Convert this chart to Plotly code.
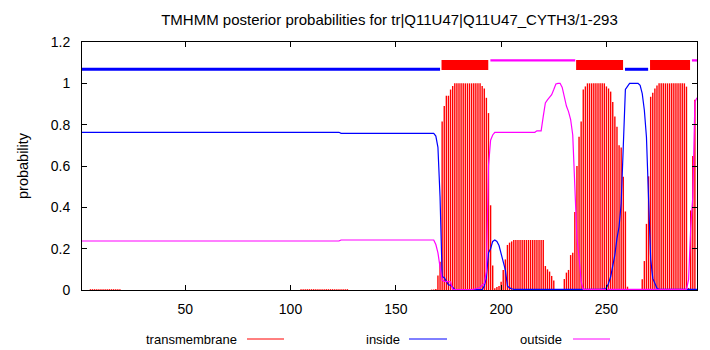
import plotly.graph_objects as go

# ---------------- data ----------------
title_text = "TMHMM posterior probabilities for tr|Q11U47|Q11U47_CYTH3/1-293"
x_ticks = [50, 100, 150, 200, 250]
y_ticks = [0, 0.2, 0.4, 0.6, 0.8, 1, 1.2]
y_tick_labels = ["0", "0.2", "0.4", "0.6", "0.8", "1", "1.2"]
legend_names = ["transmembrane", "inside", "outside"]

# transmembrane posterior probability (impulses), residue -> probability
tm_residue = [5, 6, 7, 8, 9, 10, 11, 12, 13, 14, 15, 16, 17, 18, 19,
              105, 106, 107, 108, 109, 110, 111, 112, 113, 114, 115, 116,
              117, 118, 119, 120, 121, 122, 123, 124, 125, 126, 127,
              167, 168, 169, 170, 171, 172, 173, 174, 175, 176, 177,
              178, 179, 180, 181, 182, 183, 184, 185, 186, 187, 188, 189, 190,
              191, 192, 193, 194, 195, 196, 197, 198, 199, 200, 201, 202,
              203, 204, 205, 206, 207, 208, 209, 210, 211, 212, 213, 214,
              215, 216, 217, 218, 219, 220, 221, 222, 223, 224, 225, 226,
              227, 228, 229, 230, 231, 232, 233, 234, 235, 236, 237, 238,
              239, 240, 241, 242, 243, 244, 245, 246, 247, 248, 249, 250,
              251, 252, 253, 254, 255, 256, 257, 258, 259, 260, 261, 266,
              267, 268, 269, 270, 271, 272, 273, 274, 275, 276, 277, 278,
              279, 280, 281, 282, 283, 284, 285, 286, 287, 288, 289, 290,
              291, 292]
tm_prob = [0.004, 0.004, 0.004, 0.004, 0.004, 0.004, 0.004, 0.004, 0.004, 0.004,
           0.004, 0.004, 0.004, 0.004, 0.004,
           0.004, 0.004, 0.004, 0.004, 0.004, 0.004, 0.004, 0.004, 0.004, 0.004,
           0.004, 0.004, 0.004, 0.004, 0.004, 0.004, 0.004, 0.004, 0.004, 0.004,
           0.004, 0.004, 0.004,
           0.002, 0.003, 0.005, 0.07, 0.137, 0.815, 0.89, 0.94, 0.94, 0.97, 0.987,
           1.0, 1.0, 1.0, 1.0, 1.0, 1.0, 1.0, 1.0, 1.0, 1.0, 1.0, 1.0, 1.0,
           0.987, 0.975, 0.93, 0.856, 0.41, 0.118, 0.008, 0.015, 0.019, 0.04, 0.097, 0.148,
           0.218, 0.229, 0.235, 0.242, 0.242, 0.242, 0.242, 0.242, 0.242, 0.242, 0.242, 0.242,
           0.242, 0.242, 0.242, 0.242, 0.242, 0.242, 0.116, 0.10, 0.089, 0.068, 0.046, 0.002,
           0.001, 0.001, 0.002, 0.053, 0.084, 0.097, 0.169, 0.18, 0.377, 0.60, 0.742, 0.815,
           0.97, 0.985, 1.0, 1.0, 1.0, 1.0, 1.0, 1.0, 1.0, 1.0, 1.0, 0.985,
           0.975, 0.96, 0.91, 0.84, 0.79, 0.70, 0.69, 0.548, 0.38, 0.016, 0.005, 0.003,
           0.052, 0.14, 0.32, 0.55, 0.935, 0.955, 0.975, 0.99, 1.0, 1.0, 1.0, 1.0,
           1.0, 1.0, 1.0, 1.0, 1.0, 1.0, 1.0, 1.0, 1.0, 0.984, 0.01, 0.385,
           0.648, 0.92]

# inside posterior probability (line)
inside_res = [1, 123, 124, 168, 169, 170, 171, 172, 173, 174, 175, 176, 177, 178,
              191, 192, 193, 194, 195, 196, 197, 198, 199, 200, 201, 202, 203, 204,
              205, 206, 247, 248, 249, 250, 251, 252, 253, 254, 255, 256, 257, 258,
              259, 260, 261, 265, 266, 267, 268, 269, 270, 271, 272, 273, 274, 275, 293]
inside_prob = [0.763, 0.763, 0.758, 0.758, 0.745, 0.69, 0.45, 0.065, 0.06, 0.04, 0.025,
               0.024, 0.012, 0.003, 0.002, 0.019, 0.06, 0.18, 0.2, 0.235, 0.242, 0.235,
               0.215, 0.175, 0.14, 0.097, 0.02, 0.01, 0.006, 0.003, 0.003, 0.003, 0.005,
               0.01, 0.032, 0.064, 0.12, 0.17, 0.25, 0.306, 0.42, 0.72, 0.97, 0.985, 1.0,
               1.0, 0.99, 0.95, 0.87, 0.74, 0.45, 0.15, 0.056, 0.032, 0.008, 0.003, 0.003]

# outside posterior probability (line)
outside_res = [1, 123, 124, 168, 169, 170, 171, 172, 173, 176, 177, 186, 188, 190, 191,
               192, 193, 194, 195, 196, 197, 216, 217, 219, 220, 221, 222, 223, 224, 225,
               226, 227, 228, 229, 230, 231, 232, 233, 234, 235, 236, 237, 238, 239, 288,
               289, 290, 291, 292, 293]
outside_prob = [0.237, 0.237, 0.242, 0.242, 0.22, 0.18, 0.11, 0.048, 0.042, 0.04, 0.003,
                0.002, 0.006, 0.012, 0.024, 0.032, 0.09, 0.6, 0.725, 0.75, 0.763, 0.763,
                0.77, 0.77, 0.84, 0.905, 0.92, 0.93, 0.945, 0.97, 0.997, 1.0, 1.0, 0.98,
                0.93, 0.89, 0.863, 0.825, 0.75, 0.52, 0.25, 0.16, 0.04, 0.003, 0.003,
                0.05, 0.3, 0.45, 0.91, 0.93]

# predicted topology segments (start, end)
inside_seg_start = [1, 258.8]
inside_seg_end = [171.0, 269.8]
tm_seg_start = [171.7, 235.6, 270.7]
tm_seg_end = [193.9, 257.9, 289.7]
outside_seg_start = [194.9, 290.6]
outside_seg_end = [235.2, 293]

# ---------------- styling / positions ----------------
RED, BLUE, MAG = "#ff0000", "#0000ff", "#ff00ff"
FONT = "Liberation Sans"
Y_IN, Y_OUT, Y_TM0, Y_TM1 = 1.068, 1.111, 1.065, 1.113

L, R, T, B = 82, 13, 42, 60
W, H = 710, 350
PW, PH = W - L - R, H - T - B


def px_to_paper_x(px):
    return (px - L) / PW


def px_to_paper_y(py):
    return (H - B - py) / PH


fig = go.Figure()

# impulses (gnuplot "with impulses"): vertical segment from 0 to value per residue
imp_x, imp_y = [], []
for r, p in zip(tm_residue, tm_prob):
    imp_x += [r, r, None]
    imp_y += [0, p, None]
fig.add_trace(go.Scatter(x=imp_x, y=imp_y, mode="lines",
                         line=dict(color=RED, width=1.4),
                         showlegend=False, name=legend_names[0], hoverinfo="skip"))

fig.add_trace(go.Scatter(x=inside_res, y=inside_prob, mode="lines",
                         line=dict(color=BLUE, width=1.2), showlegend=False,
                         name=legend_names[1]))
fig.add_trace(go.Scatter(x=outside_res, y=outside_prob, mode="lines",
                         line=dict(color=MAG, width=1.2), showlegend=False,
                         name=legend_names[2]))

# topology bars
xs, ys = [], []
for s, e in zip(inside_seg_start, inside_seg_end):
    xs += [s, e, None]
    ys += [Y_IN, Y_IN, None]
fig.add_trace(go.Scatter(x=xs, y=ys, mode="lines", line=dict(color=BLUE, width=3),
                         showlegend=False, hoverinfo="skip"))
xs, ys = [], []
for s, e in zip(outside_seg_start, outside_seg_end):
    xs += [s, e, None]
    ys += [Y_OUT, Y_OUT, None]
fig.add_trace(go.Scatter(x=xs, y=ys, mode="lines", line=dict(color=MAG, width=2.3),
                         showlegend=False, hoverinfo="skip"))
for s, e in zip(tm_seg_start, tm_seg_end):
    fig.add_trace(go.Scatter(x=[s, e, e, s, s], y=[Y_TM0, Y_TM0, Y_TM1, Y_TM1, Y_TM0],
                             mode="lines", fill="toself", fillcolor=RED,
                             line=dict(color=RED, width=0), showlegend=False,
                             hoverinfo="skip"))

# legend (gnuplot style: text then line sample)
leg_y = px_to_paper_y(339)
legend_text_right = [239, 402, 564]
legend_line = [(247, 284), (409, 447), (573, 610)]
legend_colors = [RED, BLUE, MAG]
annotations = []
shapes = []
for name, tx, (l0, l1), c in zip(legend_names, legend_text_right, legend_line, legend_colors):
    annotations.append(dict(text=name, x=px_to_paper_x(tx), y=leg_y, xref="paper",
                            yref="paper", xanchor="right", yanchor="middle",
                            showarrow=False, font=dict(family=FONT, size=13, color="black")))
    shapes.append(dict(type="line", xref="paper", yref="paper",
                       x0=px_to_paper_x(l0), x1=px_to_paper_x(l1), y0=leg_y, y1=leg_y,
                       line=dict(color=c, width=1)))

annotations.append(dict(text="probability", x=px_to_paper_x(23), y=0.5, xref="paper",
                        yref="paper", textangle=-90, showarrow=False,
                        xanchor="center", yanchor="middle",
                        font=dict(family=FONT, size=14.5, color="black")))

fig.update_layout(
    width=W, height=H,
    margin=dict(l=L, r=R, t=T, b=B, pad=0),
    paper_bgcolor="white", plot_bgcolor="white",
    font=dict(family=FONT, size=14, color="black"),
    title=dict(text=title_text, x=389.5 / W, xanchor="center", xref="container",
               y=1 - 20 / H, yanchor="middle", yref="container",
               font=dict(family=FONT, size=15, color="black")),
    annotations=annotations, shapes=shapes,
)
fig.update_xaxes(range=[1, 293], tickvals=x_ticks, ticks="inside", ticklen=5,
                 tickcolor="black", showline=True, linecolor="black", linewidth=1,
                 mirror="ticks", showgrid=False, zeroline=False,
                 ticklabelstandoff=6, tickfont=dict(family=FONT, size=14))
fig.update_yaxes(range=[0, 1.2], tickvals=y_ticks, ticktext=y_tick_labels,
                 ticks="inside", ticklen=5, tickcolor="black", showline=True,
                 linecolor="black", linewidth=1, mirror="ticks", showgrid=False,
                 zeroline=False, ticklabelstandoff=8, tickfont=dict(family=FONT, size=14))

fig.write_html("out.html")
